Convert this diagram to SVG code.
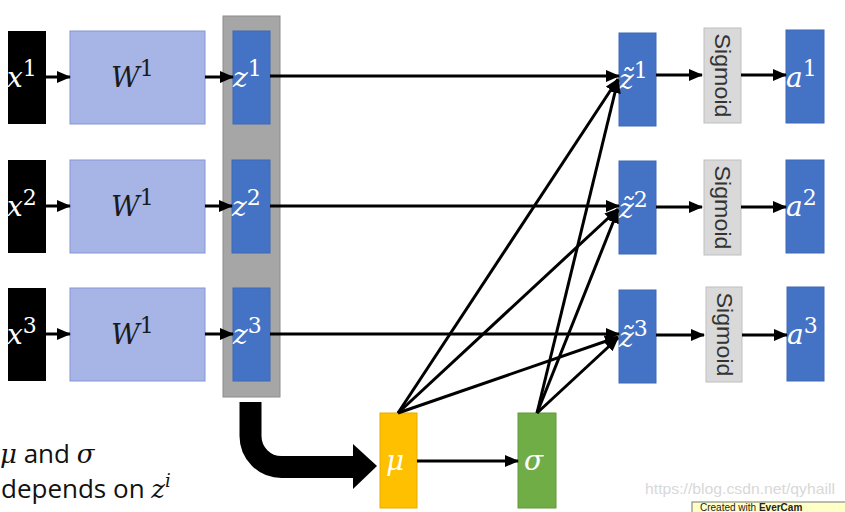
<svg xmlns="http://www.w3.org/2000/svg" width="845" height="512" viewBox="0 0 845 512">
<style>
.xb{fill:#000}
.wb{fill:#a6b5e6;stroke:#8595d6;stroke-width:1}
.bb{fill:#4472c4;stroke:#3d68b5;stroke-width:1}
.sb{fill:#d9d9d9;stroke:#bfbfbf;stroke-width:1}
.m{font-family:"DejaVu Serif","Liberation Serif",serif;font-style:italic;font-size:28px}
.w{fill:#fff}
.k{fill:#1a1a1a}
.sup{font-style:normal;font-size:22px}
.sig{font-family:"Liberation Sans","Open Sans",sans-serif;font-size:22px;fill:#333}
.ln{stroke:#000;stroke-width:3;fill:none;marker-end:url(#ah)}
.body{font-family:"Open Sans","Liberation Sans",sans-serif;font-size:26px;fill:#111}
</style>
<defs>
<marker id="ah" markerUnits="userSpaceOnUse" markerWidth="14" markerHeight="12" refX="13" refY="6" orient="auto">
<path d="M0,0 L14,6 L0,12 z" fill="#000"/>
</marker>
</defs>
<rect width="845" height="512" fill="#fff"/>

<g id="inputs">
<g id="x1"><rect class="xb" x="8" y="31" width="38" height="93"/><text class="m w" x="7" y="87">x<tspan class="sup" dy="-11">1</tspan></text></g>
<g id="x2"><rect class="xb" x="8" y="160" width="38" height="93"/><text class="m w" x="7" y="216">x<tspan class="sup" dy="-11">2</tspan></text></g>
<g id="x3"><rect class="xb" x="8" y="288" width="38" height="93"/><text class="m w" x="7" y="344">x<tspan class="sup" dy="-11">3</tspan></text></g>
</g>

<g id="weights">
<g id="W1a"><rect class="wb" x="70" y="31" width="135" height="93"/><text class="m k" x="111" y="87">W<tspan class="sup" dy="-11">1</tspan></text></g>
<g id="W1b"><rect class="wb" x="70" y="160" width="135" height="93"/><text class="m k" x="111" y="216">W<tspan class="sup" dy="-11">1</tspan></text></g>
<g id="W1c"><rect class="wb" x="70" y="288" width="135" height="93"/><text class="m k" x="111" y="344">W<tspan class="sup" dy="-11">1</tspan></text></g>
</g>

<g id="zcol">
<rect x="223" y="16" width="57" height="381" fill="#a6a6a6" stroke="#8c8c8c" stroke-width="1"/>
<g id="z1"><rect class="bb" x="233" y="31" width="37" height="93"/><text class="m w" x="233" y="87">z<tspan class="sup" dy="-11">1</tspan></text></g>
<g id="z2"><rect class="bb" x="232" y="160" width="38" height="93"/><text class="m w" x="232" y="216">z<tspan class="sup" dy="-11">2</tspan></text></g>
<g id="z3"><rect class="bb" x="233" y="288" width="37" height="93"/><text class="m w" x="233" y="344">z<tspan class="sup" dy="-11">3</tspan></text></g>
</g>

<g id="zt">
<g id="zt1"><rect class="bb" x="619" y="33" width="37" height="93"/><text class="m w" x="619" y="89">z̃<tspan class="sup" dy="-11">1</tspan></text></g>
<g id="zt2"><rect class="bb" x="619" y="161" width="37" height="93"/><text class="m w" x="619" y="218">z̃<tspan class="sup" dy="-11">2</tspan></text></g>
<g id="zt3"><rect class="bb" x="619" y="290" width="37" height="93"/><text class="m w" x="619" y="347">z̃<tspan class="sup" dy="-11">3</tspan></text></g>
</g>

<g id="sigmoids">
<g id="s1"><rect class="sb" x="704" y="28" width="37" height="95"/><text class="sig" text-anchor="middle" dominant-baseline="central" transform="translate(722.5,75.5) rotate(90)" textLength="84" lengthAdjust="spacingAndGlyphs">Sigmoid</text></g>
<g id="s2"><rect class="sb" x="704" y="160" width="37" height="95"/><text class="sig" text-anchor="middle" dominant-baseline="central" transform="translate(722.5,207.5) rotate(90)" textLength="84" lengthAdjust="spacingAndGlyphs">Sigmoid</text></g>
<g id="s3"><rect class="sb" x="706" y="287" width="36" height="95"/><text class="sig" text-anchor="middle" dominant-baseline="central" transform="translate(724,334.5) rotate(90)" textLength="84" lengthAdjust="spacingAndGlyphs">Sigmoid</text></g>
</g>

<g id="outputs">
<g id="a1"><rect class="bb" x="786" y="30" width="38" height="93"/><text class="m w" x="786" y="87">a<tspan class="sup" dy="-11">1</tspan></text></g>
<g id="a2"><rect class="bb" x="786" y="160" width="38" height="93"/><text class="m w" x="786" y="216">a<tspan class="sup" dy="-11">2</tspan></text></g>
<g id="a3"><rect class="bb" x="787" y="287" width="37" height="94"/><text class="m w" x="787" y="344">a<tspan class="sup" dy="-11">3</tspan></text></g>
</g>

<g id="mu"><rect x="380" y="413" width="37" height="95" fill="#ffc000" stroke="#e6ac00" stroke-width="1"/><text class="m w" x="386" y="470">μ</text></g>
<g id="sigma"><rect x="518" y="413" width="38" height="95" fill="#70ad47" stroke="#5f9a3a" stroke-width="1"/><text class="m w" x="524" y="470">σ</text></g>

<g id="connectors">
<line class="ln" x1="46" y1="77" x2="70" y2="77"/>
<line class="ln" x1="46" y1="206" x2="70" y2="206"/>
<line class="ln" x1="46" y1="334" x2="70" y2="334"/>
<line class="ln" x1="205" y1="77" x2="233" y2="77"/>
<line class="ln" x1="205" y1="206" x2="232" y2="206"/>
<line class="ln" x1="205" y1="334" x2="233" y2="334"/>
<line class="ln" x1="270" y1="76" x2="619" y2="76"/>
<line class="ln" x1="270" y1="206" x2="619" y2="206"/>
<line class="ln" x1="270" y1="334" x2="619" y2="334"/>
<line class="ln" x1="398" y1="413" x2="618" y2="79"/>
<line class="ln" x1="398" y1="413" x2="618" y2="209"/>
<line class="ln" x1="398" y1="413" x2="618" y2="337"/>
<line class="ln" x1="537" y1="413" x2="618" y2="80"/>
<line class="ln" x1="537" y1="413" x2="618" y2="210"/>
<line class="ln" x1="537" y1="413" x2="618" y2="338"/>
<line class="ln" x1="656" y1="75" x2="702" y2="75"/>
<line class="ln" x1="656" y1="207" x2="702" y2="207"/>
<line class="ln" x1="656" y1="335" x2="704" y2="335"/>
<line class="ln" x1="741" y1="75" x2="786" y2="75"/>
<line class="ln" x1="741" y1="207" x2="786" y2="207"/>
<line class="ln" x1="742" y1="335" x2="787" y2="335"/>
<line class="ln" x1="417" y1="461" x2="518" y2="461"/>
<path d="M250.5,402 V436 A31,31 0 0 0 281.5,467 H356" fill="none" stroke="#000" stroke-width="22"/>
<polygon points="353,444 377,466 353,489" fill="#000"/>
</g>

<g id="caption">
<text class="body" x="0" y="463"><tspan font-family="DejaVu Serif,serif" font-style="italic">μ</tspan> and <tspan font-family="DejaVu Serif,serif" font-style="italic">σ</tspan></text>
<text class="body" x="1" y="498">depends on <tspan font-family="DejaVu Serif,serif" font-style="italic">z</tspan><tspan font-family="DejaVu Serif,serif" font-style="italic" font-size="18" dy="-11">i</tspan></text>
</g>

<g id="watermark">
<text x="645" y="494" font-family="Liberation Sans,Arial,sans-serif" font-size="15" fill="#d8d8d8" textLength="190" lengthAdjust="spacingAndGlyphs">https://blog.csdn.net/qyhaill</text>
<rect x="692" y="502" width="160" height="20" fill="#ffffc8" stroke="#777" stroke-width="1"/>
<text x="700" y="511" font-family="Liberation Sans,Arial,sans-serif" font-size="10" fill="#222">Created with <tspan font-weight="bold">EverCam</tspan></text>
</g>
</svg>
